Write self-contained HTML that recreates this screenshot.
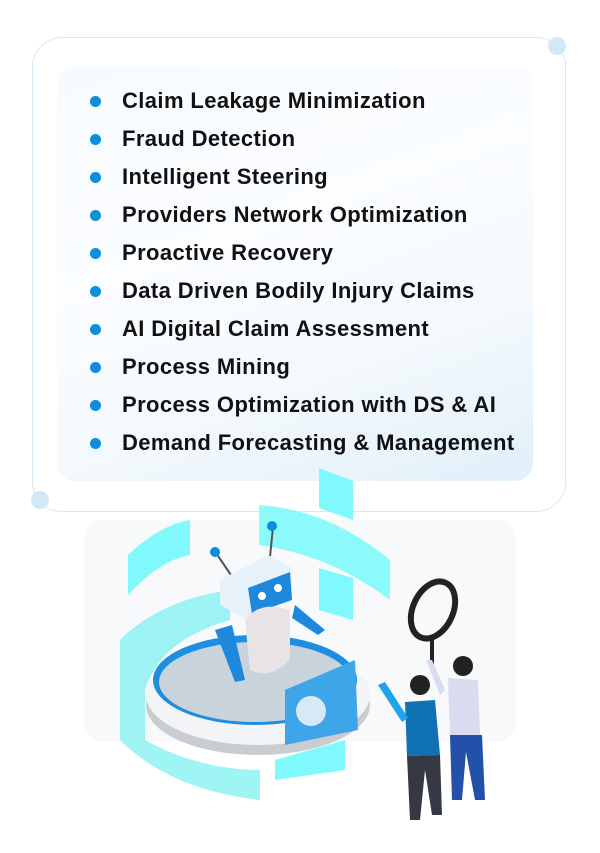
<!DOCTYPE html>
<html><head><meta charset="utf-8"><style>
body{margin:0;width:600px;height:853px;background:#fff;position:relative;overflow:hidden;font-family:"Liberation Sans",sans-serif}
.outer{position:absolute;left:32px;top:37px;width:534px;height:475px;border:1px solid #d6eaf5;border-radius:30px;box-sizing:border-box}
.dot{position:absolute;width:18px;height:18px;border-radius:50%;background:#d3e8f5}
.panel{position:absolute;left:57px;top:67px;width:476px;height:414px;border-radius:18px;background:linear-gradient(160deg,#f7fbfe 0%,#fbfdff 40%,#f3f9fd 70%,#e1eff9 100%)}
ul{position:absolute;left:88px;top:88px;margin:0;padding:0;list-style:none}
li{height:38px;line-height:26px;font-size:22px;font-weight:bold;color:#111;position:relative;padding-left:34px;letter-spacing:0.4px}
li:before{content:"";position:absolute;left:2px;top:8px;width:11px;height:11px;border-radius:50%;background:#0b8de0}
</style></head><body>
<div class="outer"></div>
<div class="dot" style="left:548px;top:37px"></div>
<div class="dot" style="left:31px;top:491px"></div>
<div class="panel"></div>
<ul>
<li>Claim Leakage Minimization</li>
<li>Fraud Detection</li>
<li>Intelligent Steering</li>
<li>Providers Network Optimization</li>
<li>Proactive Recovery</li>
<li>Data Driven Bodily Injury Claims</li>
<li>AI Digital Claim Assessment</li>
<li>Process Mining</li>
<li>Process Optimization with DS &amp; AI</li>
<li>Demand Forecasting &amp; Management</li>
</ul>
<svg style="position:absolute;left:0;top:0" width="600" height="853">
<rect x="84" y="520" width="432" height="222" rx="20" fill="#f8f9fb"/>
<path d="M319 468 L353 481 L353 520 L319 508Z" fill="#7ff9fb"/>
<path d="M259 505 Q330 510 390 560 L390 600 Q330 555 259 545Z" fill="#7ff9fb" opacity=".9"/>
<path d="M128 555 Q160 525 190 520 L190 555 Q160 560 128 595Z" fill="#7ff9fb"/>
<path d="M319 568 L353 578 L353 620 L319 610Z" fill="#7ff9fb"/>
<ellipse cx="258" cy="705" rx="112" ry="50" fill="#c9ccd0"/>
<ellipse cx="258" cy="695" rx="112" ry="50" fill="#f2f4f6"/>
<ellipse cx="255" cy="680" rx="102" ry="45" fill="#1e8fe0"/>
<ellipse cx="255" cy="682" rx="96" ry="40" fill="#c9d3dc"/>
<path d="M120 640 Q160 600 230 590 L230 620 Q160 640 145 690 L145 740 Q200 770 260 770 L260 800 Q170 790 120 740Z" fill="#7ff0f0" opacity=".75"/>
<path d="M275 760 L345 740 L345 770 L275 780Z" fill="#7ff9fb"/>
<path d="M285 690 L355 660 L358 730 L285 745Z" fill="#3da5e8"/>
<circle cx="311" cy="711" r="15" fill="#d8e8f4"/>
<line x1="231" y1="575" x2="216" y2="553" stroke="#555" stroke-width="2"/><circle cx="215" cy="552" r="5" fill="#0b8de0"/>
<line x1="270" y1="557" x2="273" y2="527" stroke="#555" stroke-width="2"/><circle cx="272" cy="526" r="5" fill="#0b8de0"/>
<path d="M220 580 L268 555 L292 568 L292 600 L245 618 L220 605Z" fill="#e6f1fa"/>
<path d="M248 588 L290 572 L292 600 L252 614Z" fill="#1e88dd"/>
<circle cx="262" cy="596" r="4" fill="#fff"/><circle cx="278" cy="588" r="4" fill="#fff"/>
<path d="M245 620 Q260 600 290 610 L290 660 Q270 680 250 670Z" fill="#e8e4e6"/>
<path d="M215 630 L232 625 L245 680 L235 682Z" fill="#1e88dd"/>
<path d="M295 605 L325 630 L318 635 L292 618Z" fill="#1e88dd"/>
<ellipse cx="433" cy="610" rx="20" ry="30" transform="rotate(25 433 610)" fill="none" stroke="#222" stroke-width="6"/>
<rect x="430" y="638" width="4" height="30" fill="#222"/>
<circle cx="463" cy="666" r="10" fill="#222"/>
<path d="M448 678 L478 680 L480 735 L450 735Z" fill="#d9dcee"/>
<path d="M426 660 L432 660 L445 690 L440 695Z" fill="#d9dcee"/>
<path d="M450 735 L482 735 L485 800 L475 800 L466 752 L462 800 L452 800Z" fill="#2350a8"/>
<circle cx="420" cy="685" r="10" fill="#222"/>
<path d="M405 702 L435 700 L440 755 L407 756Z" fill="#1171b5"/>
<path d="M378 685 L385 682 L408 718 L402 722Z" fill="#1ea3ee"/>
<path d="M407 756 L440 755 L442 815 L432 815 L425 770 L420 820 L410 820Z" fill="#363844"/>
</svg>
</body></html>
